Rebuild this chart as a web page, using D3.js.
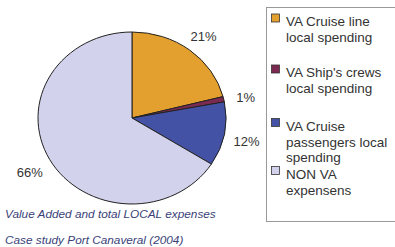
<!DOCTYPE html>
<html>
<head>
<meta charset="utf-8">
<script src="https://cdn.jsdelivr.net/npm/d3@7"></script>
<style>
  body { margin: 0; background: #fff; }
  text { font-family: "Liberation Sans", Arial, sans-serif; }
</style>
</head>
<body>
<div id="chart"></div>
<script>
// data
var categories = ["VA Cruise line local spending", "VA Ship's crews local spending",
                  "VA Cruise passengers local spending", "NON VA expensens"];
var legendLines = [["VA Cruise line", "local spending"],
                   ["VA Ship's crews", "local spending"],
                   ["VA Cruise", "passengers local", "spending"],
                   ["NON VA", "expensens"]];
var shares = [21, 1, 12, 66];
var colors = ["#e4a02e", "#7c2a52", "#4452a6", "#d2d2ec"];
var captionLines = ["Value Added and total LOCAL expenses", "Case study Port Canaveral (2004)"];

var svgWidth = 395;
var svgHeight = 247;

var cx = 132, cy = 118;
var rx = 94, ry = 86;
var sx = rx / ry;

var svg = d3.select("#chart")
  .append("svg")
  .attr("width", svgWidth)
  .attr("height", svgHeight);

var pie = d3.pie().sort(null).value(d => d);
var arcs = pie(shares);

var arc = d3.arc().innerRadius(0).outerRadius(ry);
var labelArc = d3.arc().innerRadius(ry * 1.24).outerRadius(ry * 1.24);

// slices (pie is slightly wider than tall)
var pieGroup = svg.append("g")
  .attr("transform", `translate(${cx}, ${cy}) scale(${sx}, 1)`);

pieGroup.selectAll("path")
  .data(arcs)
  .enter()
  .append("path")
  .attr("d", arc)
  .attr("fill", (d, i) => colors[i])
  .attr("stroke", "#222")
  .attr("stroke-width", 1)
  .attr("vector-effect", "non-scaling-stroke");

// percent labels
svg.selectAll(".pct")
  .data(arcs)
  .enter()
  .append("text")
  .attr("class", "pct")
  .attr("x", d => cx + labelArc.centroid(d)[0] * sx)
  .attr("y", d => cy + 3 + labelArc.centroid(d)[1])
  .attr("dy", "0.35em")
  .attr("text-anchor", "middle")
  .attr("font-size", "13px")
  .attr("fill", "#333")
  .text(d => d.data + "%");

// legend
var legend = svg.append("g");
legend.append("rect")
  .attr("x", 266.5)
  .attr("y", 7.5)
  .attr("width", 140)
  .attr("height", 214)
  .attr("fill", "#fff")
  .attr("stroke", "#999");

var itemY = [21.5, 72.5, 126, 174];
var lineH = 15.8;

var items = legend.selectAll(".item")
  .data(legendLines)
  .enter()
  .append("g")
  .attr("class", "item")
  .attr("transform", (d, i) => `translate(0, ${itemY[i]})`);

items.append("rect")
  .attr("x", 271.5)
  .attr("y", -7.5)
  .attr("width", 8)
  .attr("height", 8)
  .attr("fill", (d, i) => colors[i])
  .attr("stroke", "#333")
  .attr("stroke-width", 0.8);

items.selectAll("text")
  .data(d => d)
  .enter()
  .append("text")
  .attr("x", 286)
  .attr("y", (d, j) => j * lineH)
  .attr("dy", "0.35em")
  .attr("font-size", "13.5px")
  .attr("fill", "#333")
  .text(d => d);

// caption
svg.selectAll(".caption")
  .data(captionLines)
  .enter()
  .append("text")
  .attr("class", "caption")
  .attr("x", 5)
  .attr("y", (d, i) => 213.5 + i * 26)
  .attr("dy", "0.35em")
  .attr("font-size", "11.8px")
  .attr("font-style", "italic")
  .attr("fill", "#3a3f78")
  .text(d => d);
</script>
</body>
</html>
